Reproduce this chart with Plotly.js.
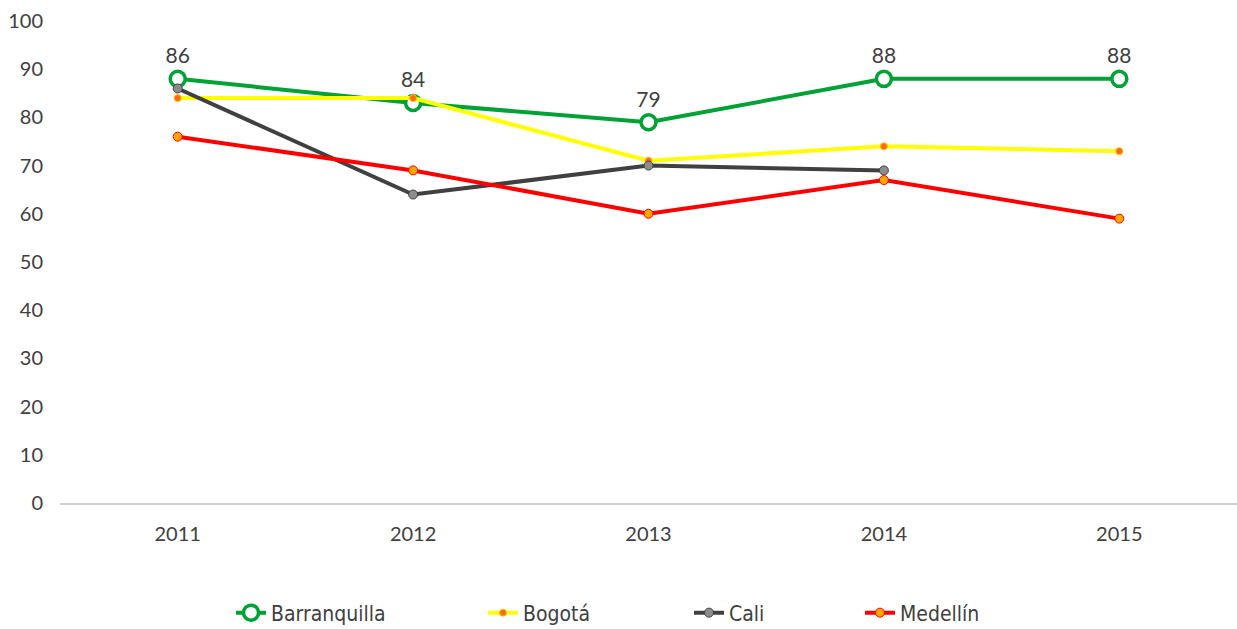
<!DOCTYPE html>
<html>
<head>
<meta charset="utf-8">
<script src="https://cdn.plot.ly/plotly-3.0.1.min.js"></script>
<style>
  html, body { margin: 0; padding: 0; background: #fff; }
  #chart { width: 1237px; height: 629px; }
</style>
</head>
<body>
<div id="chart"></div>
<script>
var years = ['2011', '2012', '2013', '2014', '2015'];
var barranquilla = [88, 83, 79, 88, 88];
var barranquillaLabels = ['86', '84', '79', '88', '88'];
var bogota = [84, 84, 71, 74, 73];
var cali = [86, 64, 70, 69, null];
var medellin = [76, 69, 60, 67, 59];
var yTicks = [0, 10, 20, 30, 40, 50, 60, 70, 80, 90, 100];

var axisFont = {family: 'Lato, "Open Sans", sans-serif', size: 20, color: '#404040'};
var legendFont = {family: '"DejaVu Sans Condensed", "Liberation Sans Narrow", sans-serif', size: 21, color: '#404040'};

// one small legend per series so the entries sit where the original has them
function legendAt(px) {
    return {
        orientation: 'h', xref: 'container', yref: 'container',
        x: px / 1237, xanchor: 'left',
        y: 16 / 629, yanchor: 'middle', font: legendFont,
        itemwidth: 30, bgcolor: 'rgba(0,0,0,0)', borderwidth: 0
    };
}

var trBarranquilla = {
    x: years, y: barranquilla, name: 'Barranquilla', type: 'scatter', mode: 'lines+markers+text',
    text: barranquillaLabels, textposition: 'top center',
    textfont: {family: 'Lato, "Open Sans", sans-serif', size: 21, color: '#404040'},
    line: {color: '#00a135', width: 4},
    marker: {size: 15, color: '#ffffff', line: {color: '#00a135', width: 3.5}},
    legend: 'legend'
};
var trBogota = {
    x: years, y: bogota, name: 'Bogotá', type: 'scatter', mode: 'lines+markers',
    line: {color: '#ffff00', width: 4},
    marker: {size: 7, color: '#ff6a13', line: {color: '#ffc000', width: 1}},
    legend: 'legend2'
};
var trCali = {
    x: years, y: cali, name: 'Cali', type: 'scatter', mode: 'lines+markers',
    line: {color: '#404040', width: 4},
    marker: {size: 9, color: '#8c8c8c', line: {color: '#404040', width: 1}},
    legend: 'legend3'
};
var trMedellin = {
    x: years, y: medellin, name: 'Medellín', type: 'scatter', mode: 'lines+markers',
    line: {color: '#ff0000', width: 4},
    marker: {size: 9, color: '#ffa500', line: {color: '#ff0000', width: 1}},
    legend: 'legend4'
};

var layout = {
    width: 1237, height: 629,
    margin: {l: 60, r: 0, t: 21, b: 126},
    paper_bgcolor: '#ffffff', plot_bgcolor: '#ffffff',
    showlegend: true,
    legend: legendAt(231),
    legend2: legendAt(483),
    legend3: legendAt(689),
    legend4: legendAt(860),
    xaxis: {
        type: 'category', range: [-0.5, 4.5],
        showgrid: false, zeroline: false,
        showline: true, linecolor: '#d0d0d0', linewidth: 2,
        ticks: '', tickfont: axisFont, ticklabelstandoff: 12
    },
    yaxis: {
        range: [0, 100], tickvals: yTicks,
        showgrid: false, zeroline: false, showline: false,
        ticks: '', tickfont: axisFont, ticklabelstandoff: 16
    }
};

Plotly.newPlot('chart', [trBarranquilla, trBogota, trCali, trMedellin], layout, {displayModeBar: false});
</script>
</body>
</html>
